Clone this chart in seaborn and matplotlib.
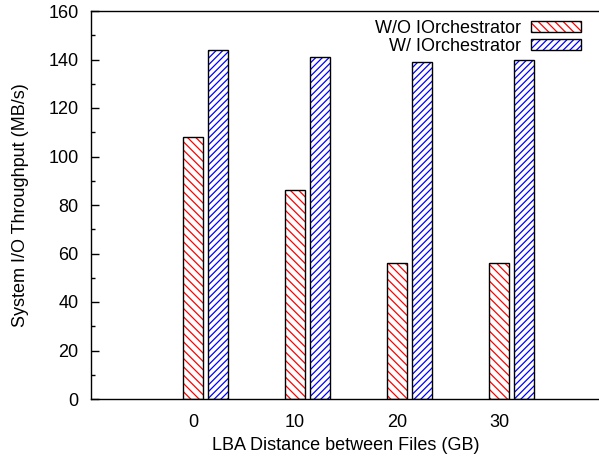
import matplotlib
matplotlib.use("Agg")
import matplotlib.pyplot as plt
from matplotlib.patches import Patch, Rectangle
from matplotlib.legend_handler import HandlerTuple
from matplotlib.ticker import MultipleLocator
import seaborn as sns
import pandas as pd
import numpy as np

categories = ["0", "10", "20", "30"]
series_names = ["W/O IOrchestrator", "W/ IOrchestrator"]
without_vals = [108, 86, 56, 56]
with_vals = [144, 141, 139, 140]
y_ticks = [0, 20, 40, 60, 80, 100, 120, 140, 160]

sns.set_theme(style="white")
plt.rcParams['font.family'] = ['Liberation Sans', 'DejaVu Sans']
plt.rcParams['hatch.linewidth'] = 0.9
plt.rcParams['text.color'] = 'black'
plt.rcParams['axes.labelcolor'] = 'black'
plt.rcParams['xtick.color'] = 'black'
plt.rcParams['ytick.color'] = 'black'

df = pd.DataFrame({
    "distance": categories * 2,
    "series": [series_names[0]] * 4 + [series_names[1]] * 4,
    "value": without_vals + with_vals,
})

fig = plt.figure(figsize=(5.99, 4.57), dpi=100)
ax = fig.add_axes([91/599, 1 - 399/457, 510/599, 388/457])

slot = 0.245
bar_w = 0.19
sns.barplot(data=df, x="distance", y="value", hue="series", order=categories,
            hue_order=series_names, palette=["red", "blue"], width=2*slot,
            gap=1 - bar_w/slot, dodge=True, ax=ax, legend=False, errorbar=None)

hatches = {"red": "\\\\\\\\", "blue": "/////"}
colors = ["red", "blue"]
patches = list(ax.patches)
for i, p in enumerate(patches):
    c = colors[i // len(categories)]
    p.set_facecolor("white")
    p.set_edgecolor(c)
    p.set_linewidth(0)
    p.set_hatch(hatches[c])
    ax.add_patch(Rectangle(p.get_xy(), p.get_width(), p.get_height(),
                           fill=False, edgecolor="black", linewidth=1.0, zorder=p.get_zorder() + 0.1))

offset = -slot / 2
ax.set_xticks(np.arange(len(categories)) + offset)
ax.set_xticklabels(categories)
ax.set_xlim(-1 + offset, 4 + offset)
ax.set_ylim(0, 160)
ax.set_yticks(y_ticks)
ax.yaxis.set_minor_locator(MultipleLocator(10))

ax.tick_params(axis='y', which='major', direction='in', length=6, width=1, pad=9, labelsize=13, left=True, colors='black')
ax.tick_params(axis='y', which='minor', direction='in', length=3, width=1, left=True, colors='black')
ax.tick_params(axis='x', which='both', length=0, pad=11, labelsize=13, colors='black')

for s in ["left", "bottom", "top"]:
    ax.spines[s].set_visible(True)
    ax.spines[s].set_color("black")
    ax.spines[s].set_linewidth(1.0)
ax.spines["right"].set_visible(False)

ax.set_xlabel("LBA Distance between Files (GB)", fontsize=13, labelpad=4, color='black')
ax.set_ylabel("System I/O Throughput (MB/s)", fontsize=13, labelpad=14, color='black')

handles = []
for c in colors:
    h1 = Patch(facecolor="white", edgecolor=c, linewidth=0, hatch=hatches[c])
    h2 = Patch(facecolor="none", edgecolor="black", linewidth=1.0)
    handles.append((h1, h2))
leg = fig.legend(handles, series_names, handler_map={tuple: HandlerTuple(ndivide=1)},
                 loc="upper right", bbox_to_anchor=(581/599, 1 - 20/457),
                 frameon=False, markerfirst=False, fontsize=13, handlelength=2.75,
                 handleheight=0.5, handletextpad=0.6, labelspacing=0.05,
                 borderpad=0, borderaxespad=0, labelcolor='black')

fig.savefig("out.png", dpi=100)
